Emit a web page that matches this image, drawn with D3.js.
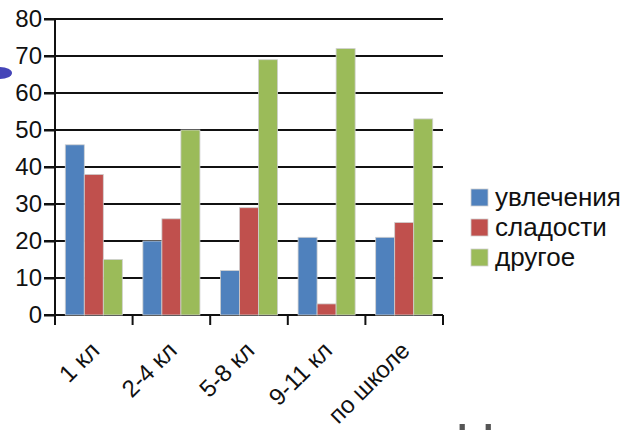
<!DOCTYPE html>
<html>
<head>
<meta charset="utf-8">
<script src="https://cdn.jsdelivr.net/npm/d3@7"></script>
<style>
  body { margin: 0; background: #fff; }
  svg { display: block; font-family: "Liberation Sans", Arial, sans-serif; }
</style>
</head>
<body>
<div id="chart"></div>
<script>
const categories = ["1 кл", "2-4 кл", "5-8 кл", "9-11 кл", "по школе"];
const seriesNames = ["увлечения", "сладости", "другое"];
const hobbies = [46, 20, 12, 21, 21];
const sweets = [38, 26, 29, 3, 25];
const other = [15, 50, 69, 72, 53];
const yTicks = [0, 10, 20, 30, 40, 50, 60, 70, 80];
const colors = ["#4F81BD", "#C0504D", "#9BBB59"];

const width = 629, height = 430;
const plot = { left: 55, right: 443, top: 19, bottom: 315 };

const svg = d3.select("#chart").append("svg")
    .attr("width", width)
    .attr("height", height);

// slide decoration: cut-off blue bullet at left
svg.append("ellipse")
    .attr("cx", 0).attr("cy", 73)
    .attr("rx", 12).attr("ry", 6)
    .attr("fill", "#4545b8");

const x0 = d3.scaleBand().domain(categories).range([plot.left, plot.right]).padding(0);
const x1 = d3.scaleBand().domain(seriesNames).range([0, x0.bandwidth()])
    .paddingInner(0).paddingOuter(0.54);
const y = d3.scaleLinear().domain([0, 80]).range([plot.bottom, plot.top]);

// gridlines
svg.append("g")
    .selectAll("line")
    .data(yTicks)
    .join("line")
    .attr("x1", plot.left - 11)
    .attr("x2", plot.right)
    .attr("y1", d => y(d))
    .attr("y2", d => y(d))
    .attr("stroke", "#111")
    .attr("stroke-width", 2);

// bars
const rows = categories.map((c, i) => ({ cat: c, values: [hobbies[i], sweets[i], other[i]] }));
svg.append("g")
    .selectAll("g")
    .data(rows)
    .join("g")
    .attr("transform", d => `translate(${x0(d.cat)},0)`)
    .selectAll("rect")
    .data(d => d.values.map((v, j) => ({ key: seriesNames[j], value: v, color: colors[j] })))
    .join("rect")
    .attr("x", d => x1(d.key))
    .attr("y", d => y(d.value))
    .attr("width", x1.bandwidth())
    .attr("height", d => y(0) - y(d.value))
    .attr("fill", d => d.color)
    .attr("stroke", "#cfcfcf")
    .attr("stroke-width", 0.8);

// y axis
const yAxis = svg.append("g")
    .attr("transform", `translate(${plot.left},0)`)
    .call(d3.axisLeft(y).tickValues(yTicks).tickSize(11).tickPadding(2));
yAxis.select(".domain").attr("stroke", "#111").attr("stroke-width", 2)
    .attr("d", `M0,${plot.top}V${plot.bottom}`);
yAxis.selectAll(".tick line").attr("stroke", "#111").attr("stroke-width", 2);
yAxis.selectAll(".tick text")
    .attr("font-size", 24)
    .attr("fill", "#111")
    .attr("font-family", "Liberation Sans, Arial, sans-serif");

// x axis: category boundary ticks
const xAxis = svg.append("g").attr("transform", `translate(0,${plot.bottom})`);
const bounds = categories.map(c => x0(c)).concat([x0.range()[1]]);
xAxis.selectAll("line.sep")
    .data(bounds)
    .join("line")
    .attr("class", "sep")
    .attr("x1", d => d).attr("x2", d => d)
    .attr("y1", 0).attr("y2", 10)
    .attr("stroke", "#111").attr("stroke-width", 2);

xAxis.selectAll("text")
    .data(categories)
    .join("text")
    .attr("transform", d => `translate(${x0(d) + x0.bandwidth() / 2 + 7},${37}) rotate(-45)`)
    .attr("text-anchor", "end")
    .attr("font-size", 24)
    .attr("fill", "#111")
    .text(d => d);

// legend
const legend = svg.append("g").attr("transform", "translate(471,189)");
const items = legend.selectAll("g")
    .data(seriesNames)
    .join("g")
    .attr("transform", (d, i) => `translate(0,${i * 30})`);
items.append("rect")
    .attr("width", 17).attr("height", 17)
    .attr("fill", (d, i) => colors[i])
    .attr("stroke", "#cfcfcf").attr("stroke-width", 0.8);
items.append("text")
    .attr("x", 24).attr("y", 17)
    .attr("font-size", 26)
    .attr("fill", "#111")
    .text(d => d);

// slide decoration: cut-off heading at bottom right
svg.append("text")
    .attr("x", 455).attr("y", 462)
    .attr("font-size", 56)
    .attr("fill", "#555")
    .text("Наш");
</script>
</body>
</html>
